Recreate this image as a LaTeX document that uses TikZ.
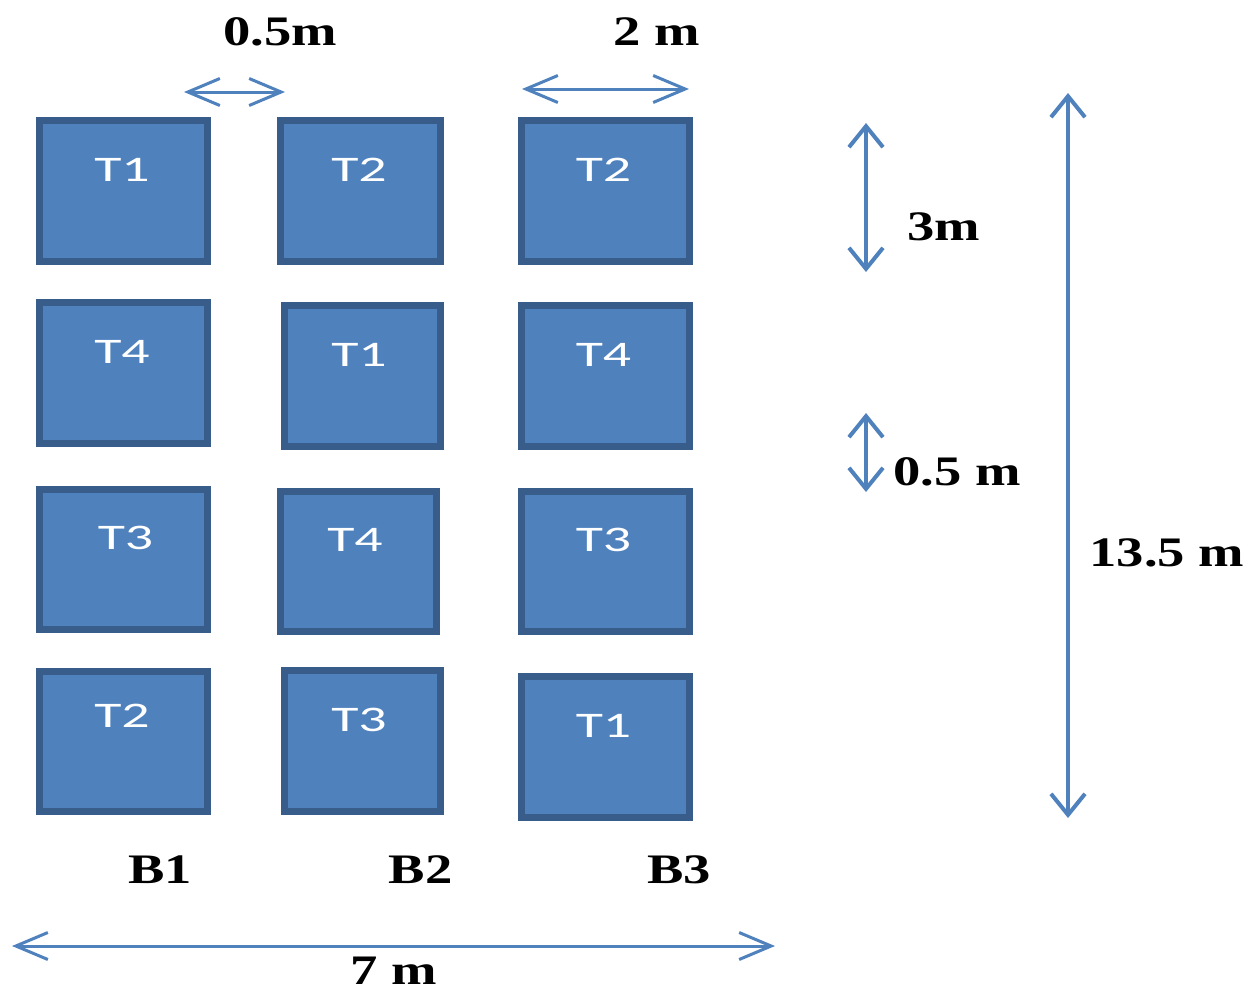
\documentclass[tikz,border=0pt]{standalone}
\usepackage{fontspec}
\setmainfont{Liberation Serif}
\newfontfamily\lblfont{Carlito}
\usetikzlibrary{arrows.meta}
\definecolor{boxfill}{HTML}{4F81BD}
\definecolor{boxline}{HTML}{385D8A}
\definecolor{arrowcol}{HTML}{4F81BD}
\tikzset{
  tbox/.style={draw=boxline, fill=boxfill, line width=7pt, inner sep=0pt, minimum width=168pt, minimum height=141pt},
  tlabel/.style={anchor=base, inner sep=0pt, text=white, font=\lblfont\fontsize{36}{40}\selectfont},
  dimlabel/.style={anchor=base, inner sep=0pt, text=black, font=\bfseries\fontsize{42}{46}\selectfont},
  harrow/.style={draw=arrowcol, line width=3pt, {Straight Barb[length=32pt,width=27pt]}-{Straight Barb[length=32pt,width=27pt]}},
  varrow/.style={draw=arrowcol, line width=4pt, {Straight Barb[length=21pt,width=34pt]}-{Straight Barb[length=21pt,width=34pt]}}
}
\newcommand{\wide}[1]{\scalebox{1.3}[1]{#1}}
\newcommand{\twide}[1]{\scalebox{1.55}[1]{#1}}
\begin{document}
\begin{tikzpicture}[x=1pt,y=-1pt]
\useasboundingbox (0,0) rectangle (1247,994);
% boxes
\node[tbox] (b11) at (123.5,191) {};
\node[tbox, minimum width=160pt] (b12) at (360.5,191) {};
\node[tbox] (b13) at (605.5,191) {};
\node[tbox] (b21) at (123.5,373) {};
\node[tbox, minimum width=156pt] (b22) at (362.5,376) {};
\node[tbox] (b23) at (605.5,376) {};
\node[tbox, minimum height=140pt] (b31) at (123.5,559.5) {};
\node[tbox, minimum width=156pt, minimum height=140pt] (b32) at (358.5,561.5) {};
\node[tbox, minimum height=140pt] (b33) at (605.5,561.5) {};
\node[tbox, minimum height=140pt] (b41) at (123.5,741.5) {};
\node[tbox, minimum width=156pt] (b42) at (362.5,741) {};
\node[tbox] (b43) at (605.5,747) {};
% box labels
\node[tlabel] (l11) at (122,181) {\twide{T1}};
\node[tlabel] (l12) at (359,181) {\twide{T2}};
\node[tlabel] (l13) at (603.5,181) {\twide{T2}};
\node[tlabel] (l21) at (122,363) {\twide{T4}};
\node[tlabel] (l22) at (359,366) {\twide{T1}};
\node[tlabel] (l23) at (603.5,366) {\twide{T4}};
\node[tlabel] (l31) at (125.5,549) {\twide{T3}};
\node[tlabel] (l32) at (355,551) {\twide{T4}};
\node[tlabel] (l33) at (603.5,551) {\twide{T3}};
\node[tlabel] (l41) at (122,727) {\twide{T2}};
\node[tlabel] (l42) at (359,731) {\twide{T3}};
\node[tlabel] (l43) at (603.5,737) {\twide{T1}};
% dimension labels
\node[dimlabel] (d05a) at (280.5,45) {\wide{0.5m}};
\node[dimlabel] (d2) at (657,45) {\wide{2 m}};
\node[dimlabel] (d3) at (944,240) {\wide{3m}};
\node[dimlabel] (d05b) at (957,485) {\wide{0.5 m}};
\node[dimlabel] (d135) at (1167,566) {\wide{13.5 m}};
\node[dimlabel] (c1) at (160,883) {\wide{B1}};
\node[dimlabel] (c2) at (420.5,883) {\wide{B2}};
\node[dimlabel] (c3) at (679,883) {\wide{B3}};
\node[dimlabel] (d7) at (394,984) {\wide{7 m}};
% arrow end points
\coordinate (a1s) at (184,92);  \coordinate (a1e) at (285,92);
\coordinate (a2s) at (522,89);  \coordinate (a2e) at (689,89);
\coordinate (a3s) at (866,123); \coordinate (a3e) at (866,272);
\coordinate (a4s) at (866,413); \coordinate (a4e) at (866,492);
\coordinate (a5s) at (1068,93); \coordinate (a5e) at (1068,818);
\coordinate (a6s) at (12,946);  \coordinate (a6e) at (775,946);
\draw[harrow] (a1s) -- (a1e);
\draw[harrow] (a2s) -- (a2e);
\draw[varrow] (a3s) -- (a3e);
\draw[varrow] (a4s) -- (a4e);
\draw[varrow] (a5s) -- (a5e);
\draw[harrow] (a6s) -- (a6e);
\end{tikzpicture}
\end{document}
